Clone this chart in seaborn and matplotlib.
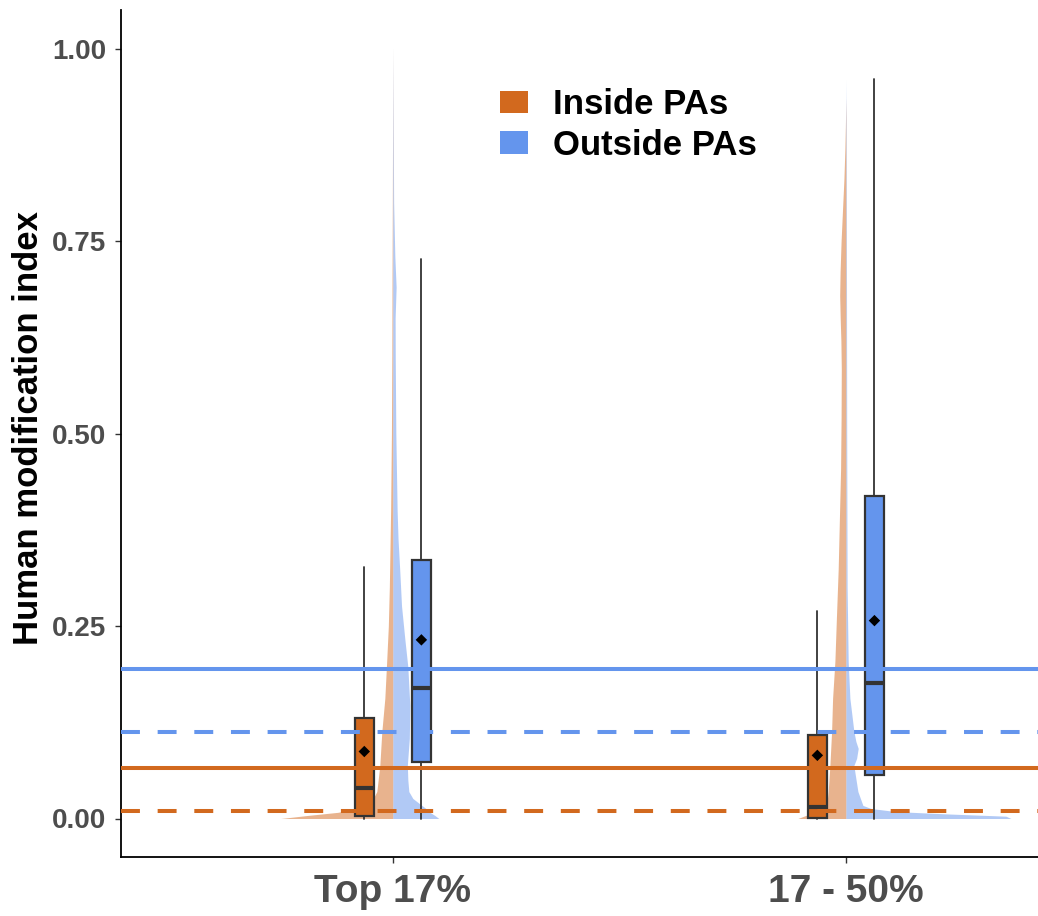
import numpy as np
import matplotlib
matplotlib.use("Agg")
import matplotlib.pyplot as plt
from matplotlib.patches import Patch
from matplotlib.font_manager import FontProperties
import seaborn as sns

# ---------------- data ----------------
groups = ["Top 17%", "17 - 50%"]
series = ["Inside PAs", "Outside PAs"]

# box statistics per group: [Top 17%, 17 - 50%]
inside_q1 = [0.003, 0.001]
inside_med = [0.040, 0.015]
inside_q3 = [0.131, 0.108]
inside_lo = [0.0, 0.0]
inside_hi = [0.326, 0.269]
inside_mean = [0.087, 0.082]

outside_q1 = [0.074, 0.057]
outside_med = [0.169, 0.176]
outside_q3 = [0.336, 0.419]
outside_lo = [0.0, 0.0]
outside_hi = [0.727, 0.961]
outside_mean = [0.232, 0.257]

# reference lines (overall)
inside_mean_all = 0.0657
inside_median_all = 0.0097
outside_mean_all = 0.1946
outside_median_all = 0.1124

# density profiles (relative density)
g1_in_y = [0.0, 0.004, 0.008, 0.013, 0.02, 0.035, 0.069, 0.113, 0.156, 0.20, 0.25,
           0.30, 0.40, 0.50, 0.60, 0.70, 0.80, 0.90, 1.00]
g1_in_d = [112, 85, 55, 35, 22, 16, 13, 11, 8, 6.3, 4.5, 3.5, 2.2, 1.4, 1.0, 0.8, 0.5,
           0.25, 0.0]
g1_out_y = [0.0, 0.004, 0.008, 0.013, 0.02, 0.026, 0.035, 0.05, 0.069, 0.104, 0.147,
            0.197, 0.233, 0.276, 0.32, 0.363, 0.40, 0.50, 0.60, 0.65, 0.69, 0.73,
            0.80, 0.90, 1.00]
g1_out_d = [46, 42, 37, 33, 26, 20, 16, 15, 14.5, 16.5, 17, 15, 12, 8.7, 7, 5.2, 4.3,
            3.0, 2.4, 2.3, 3.3, 2.0, 0.8, 0.4, 0.0]
g2_in_y = [0.0, 0.004, 0.009, 0.013, 0.035, 0.069, 0.113, 0.156, 0.204, 0.26, 0.324,
           0.40, 0.454, 0.52, 0.584, 0.62, 0.65, 0.679, 0.71, 0.75, 0.79, 0.83,
           0.87, 0.90, 0.935]
g2_in_d = [48, 40, 25, 19.5, 17.7, 16, 14.3, 13.3, 11, 9.5, 7.7, 6.3, 5.3, 4.8, 4.6,
           5.0, 5.7, 6.2, 5.8, 4.8, 3.4, 2.0, 1.0, 0.5, 0.0]
g2_out_y = [0.0, 0.003, 0.006, 0.009, 0.013, 0.017, 0.035, 0.06, 0.069, 0.078, 0.091,
            0.10, 0.113, 0.156, 0.204, 0.30, 0.50, 0.70, 0.90, 0.96]
g2_out_d = [165, 160, 100, 50, 25, 17, 12, 9, 8, 10.7, 12.3, 10, 8, 4, 2.3, 1.2, 0.8,
            0.6, 0.4, 0.0]

# ---------------- style ----------------
ORANGE = "#D2691E"
BLUE = "#6495ED"
GRAY_TXT = "#4D4D4D"
EDGE = "#333333"

sns.set_style("ticks")
plt.rcParams["font.family"] = ["Liberation Sans", "DejaVu Sans"]

W, H = 1038, 916
fig = plt.figure(figsize=(W / 100, H / 100), dpi=100)
ax = fig.add_axes([121 / W, (H - 857) / H, (W - 121) / W, (857 - 10) / H])

pos = np.array([1.0, 2.0])
dens_scale = 1 / 453.0
off = 0.063
bw = 0.042

# half violins
for i, (yy, dd) in enumerate([(g1_in_y, g1_in_d), (g2_in_y, g2_in_d)]):
    yy = np.array(yy); dd = np.array(dd) * dens_scale
    ax.fill_betweenx(yy, pos[i] - dd, pos[i], color=ORANGE, alpha=0.5, lw=0, zorder=1)
for i, (yy, dd) in enumerate([(g1_out_y, g1_out_d), (g2_out_y, g2_out_d)]):
    yy = np.array(yy); dd = np.array(dd) * dens_scale
    ax.fill_betweenx(yy, pos[i], pos[i] + dd, color=BLUE, alpha=0.5, lw=0, zorder=1)

# boxes
def stats(q1, med, q3, lo, hi):
    return [dict(q1=q1[i], med=med[i], q3=q3[i], whislo=lo[i], whishi=hi[i], fliers=[])
            for i in range(len(q1))]

for st, positions, col in [
    (stats(inside_q1, inside_med, inside_q3, inside_lo, inside_hi), pos - off, ORANGE),
    (stats(outside_q1, outside_med, outside_q3, outside_lo, outside_hi), pos + off, BLUE),
]:
    ax.bxp(st, positions=positions, widths=bw, showcaps=False, showfliers=False,
           patch_artist=True,
           boxprops=dict(facecolor=col, edgecolor=EDGE, linewidth=1.6),
           medianprops=dict(color=EDGE, linewidth=3.0, solid_capstyle="butt"),
           whiskerprops=dict(color=EDGE, linewidth=1.3),
           zorder=2, manage_ticks=False)

# reference lines
dash = (0, (4.7, 4.4))
ax.axhline(outside_mean_all, color=BLUE, lw=2.9, zorder=3)
ax.axhline(outside_median_all, color=BLUE, lw=2.9, ls=dash, zorder=3)
ax.axhline(inside_mean_all, color=ORANGE, lw=2.9, zorder=3)
ax.axhline(inside_median_all, color=ORANGE, lw=2.9, ls=dash, zorder=3)

# means
sns.scatterplot(x=np.concatenate([pos - off, pos + off]),
                y=np.array(inside_mean + outside_mean),
                marker="D", color="black", s=34, edgecolor="none", zorder=4, ax=ax,
                legend=False)

# axes
ax.set_xlim(0.4, 2.424)
ax.set_ylim(-0.05, 1.05)
ax.set_xticks(pos)
ax.set_xticklabels(groups)
ax.set_yticks([0.0, 0.25, 0.5, 0.75, 1.0])
ax.set_yticklabels(["0.00", "0.25", "0.50", "0.75", "1.00"])
ax.set_xlabel("")
ax.set_ylabel("")
for lab in ax.get_yticklabels():
    lab.set_fontsize(20); lab.set_fontweight("bold"); lab.set_color(GRAY_TXT)
for lab in ax.get_xticklabels():
    lab.set_fontsize(28); lab.set_fontweight("bold"); lab.set_color(GRAY_TXT)
ax.tick_params(axis="y", length=4.5, width=1.0, color=EDGE, pad=6)
ax.tick_params(axis="x", length=4.5, width=1.0, color=EDGE, pad=8)
sns.despine(ax=ax)
ax.spines["left"].set_linewidth(1.3)
ax.spines["bottom"].set_linewidth(1.3)
ax.spines["left"].set_color("black")
ax.spines["bottom"].set_color("black")
ax.grid(False)

fig.text(29 / W, 1 - 428 / H, "Human modification index", rotation=90,
         ha="center", va="center", fontsize=25, fontweight="bold", color="black")

handles = [Patch(facecolor=ORANGE, edgecolor="none", label=series[0]),
           Patch(facecolor=BLUE, edgecolor="none", label=series[1])]
leg = ax.legend(handles=handles, loc="upper left", bbox_to_anchor=(500 / W, 1 - 88 / H),
                bbox_transform=fig.transFigure, frameon=False,
                prop=FontProperties(family="Liberation Sans", weight="bold", size=25),
                handlelength=0.82, handleheight=0.62, handletextpad=0.72,
                labelspacing=0.22, borderpad=0, borderaxespad=0)
for t in leg.get_texts():
    t.set_color("black")

fig.savefig("out.png", dpi=100)
